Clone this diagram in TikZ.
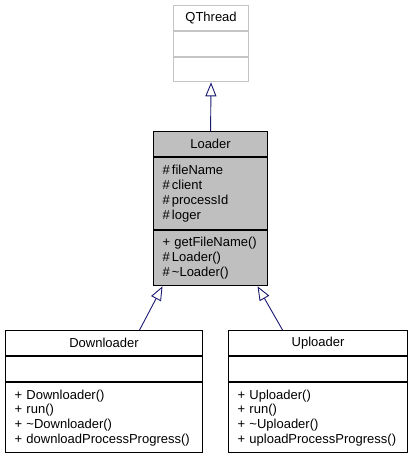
\documentclass[tikz,border=0pt]{standalone}
\usepackage{fontspec}
\setmainfont{Liberation Sans}
\usetikzlibrary{arrows.meta, positioning}
\definecolor{dxedge}{HTML}{191970}
\definecolor{dxgray}{HTML}{BFBFBF}
\definecolor{dxlight}{HTML}{C4C4C4}

\begin{document}
\begin{tikzpicture}[x=1pt, y=-1pt,
    box/.style={rectangle, draw=black, line width=1.1pt, inner xsep=9pt, inner ysep=0pt, font=\fontsize{13}{14.7}\selectfont},
    classtitle/.style={box, text width=#1, align=center, minimum height=25pt},
    classbody/.style={box, text width=#1, align=left},
    inherit/.style={-{Triangle[open, length=14pt, width=11pt]}, line width=0.9pt, color=dxedge}
]
\useasboundingbox (0,0) rectangle (413,456);

% QThread
\node[classtitle=57pt, draw=dxlight, anchor=north west] (qthread) at (173,5) {QThread};
\node[classbody=57pt, draw=dxlight, minimum height=25pt, below=0pt of qthread] (qthread-attr) {};
\node[classbody=57pt, draw=dxlight, minimum height=24pt, below=0pt of qthread-attr] (qthread-ops) {};

% Loader
\node[classtitle=96pt, fill=dxgray, anchor=north west] (loader) at (153,131) {Loader};
\node[classbody=96pt, fill=dxgray, minimum height=72pt, below=0pt of loader] (loader-attr) {\#\,fileName\\\#\,client\\\#\,processId\\\#\,loger};
\node[classbody=96pt, fill=dxgray, minimum height=55pt, below=0pt of loader-attr] (loader-ops) {+ getFileName()\\\#\,Loader()\\\#\,\textasciitilde Loader()};

% Downloader
\node[classtitle=179pt, anchor=north west] (down) at (5,330) {Downloader};
\node[classbody=179pt, minimum height=25pt, below=0pt of down] (down-attr) {};
\node[classbody=179pt, minimum height=70pt, below=0pt of down-attr] (down-ops) {+ Downloader()\\+ run()\\+ \textasciitilde Downloader()\\+ downloadProcessProgress()};

% Uploader
\node[classtitle=161pt, anchor=north west] (up) at (228,330) {Uploader};
\node[classbody=161pt, minimum height=25pt, below=0pt of up] (up-attr) {};
\node[classbody=161pt, minimum height=70pt, below=0pt of up-attr] (up-ops) {+ Uploader()\\+ run()\\+ \textasciitilde Uploader()\\+ uploadProcessProgress()};

% Inheritance
\draw[inherit] (loader.north) -- (qthread-ops.south);
\draw[inherit] ([xshift=35.5pt]down.north) -- ([xshift=-48pt]loader-ops.south);
\draw[inherit] ([xshift=-35.5pt]up.north) -- ([xshift=47pt]loader-ops.south);

\end{tikzpicture}
\end{document}
